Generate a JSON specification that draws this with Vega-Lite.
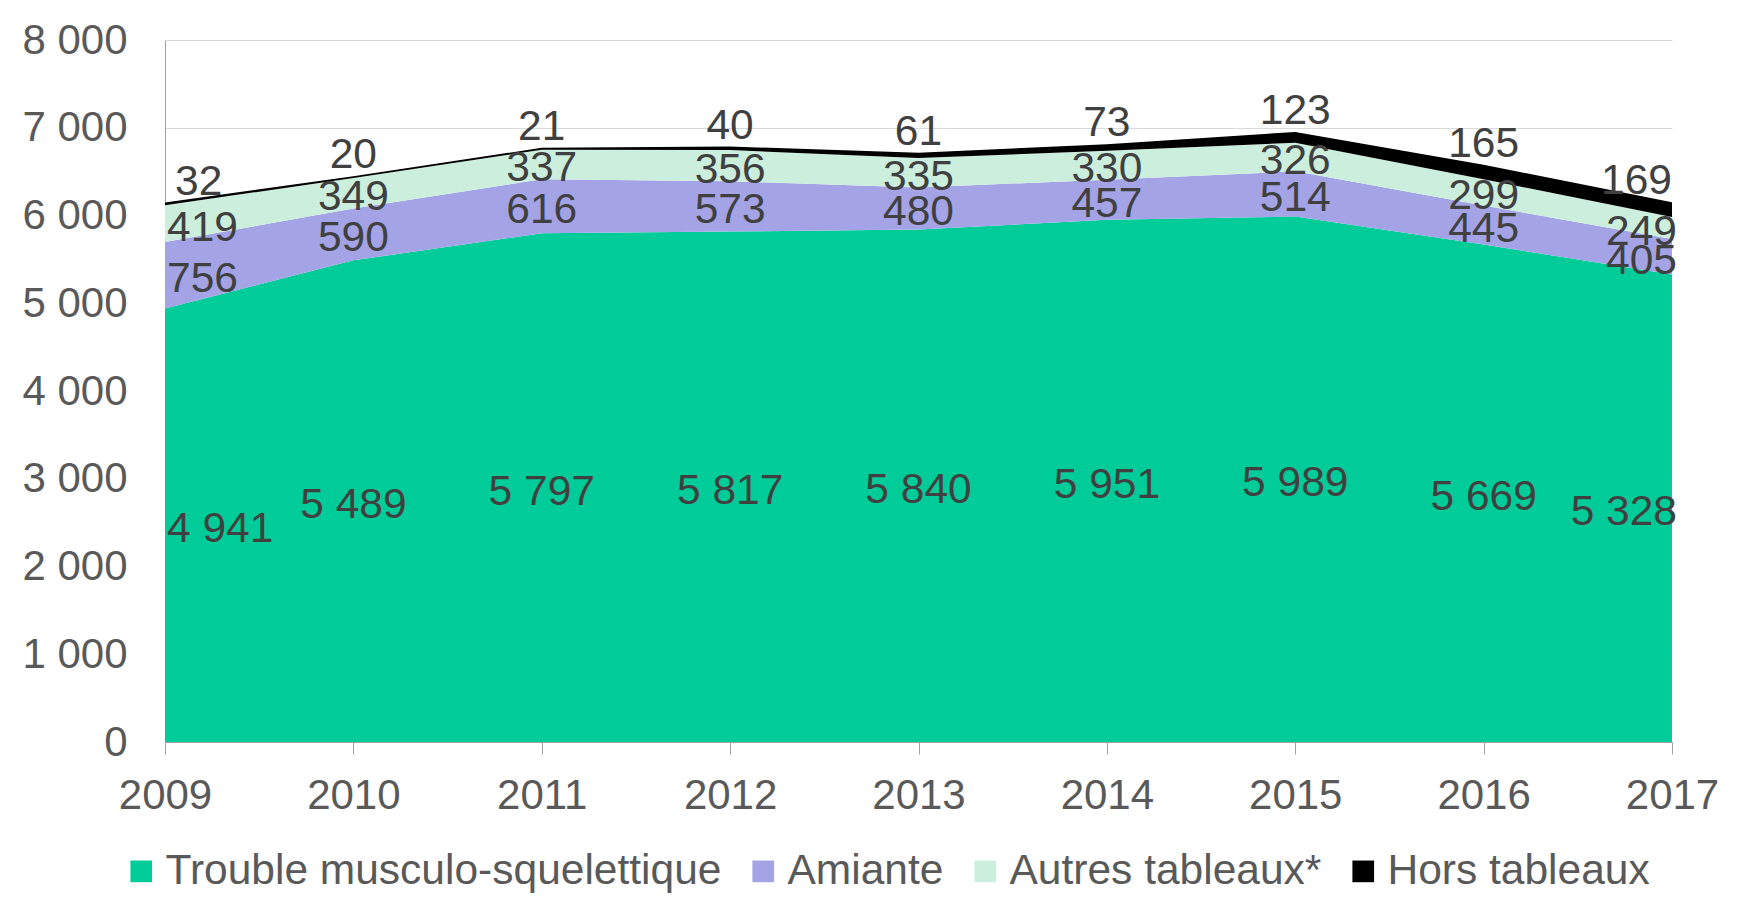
{
  "$schema": "https://vega.github.io/schema/vega-lite/v6.json",
  "width": 1507,
  "height": 702,
  "autosize": {"type": "none"},
  "padding": {"left": 165, "top": 40, "right": 69, "bottom": 170},
  "background": "white",
  "config": {
    "locale": {"number": {"decimal": ",", "thousands": " ", "grouping": [3], "currency": ["", " €"]}},
    "view": {"stroke": null},
    "font": "Liberation Sans",
    "text": {"font": "Liberation Sans"}
  },
  "data": {
    "values": [
      {"year": "2009", "cat": "Trouble musculo-squelettique", "ord": 1, "n": 4941},
      {"year": "2010", "cat": "Trouble musculo-squelettique", "ord": 1, "n": 5489},
      {"year": "2011", "cat": "Trouble musculo-squelettique", "ord": 1, "n": 5797},
      {"year": "2012", "cat": "Trouble musculo-squelettique", "ord": 1, "n": 5817},
      {"year": "2013", "cat": "Trouble musculo-squelettique", "ord": 1, "n": 5840},
      {"year": "2014", "cat": "Trouble musculo-squelettique", "ord": 1, "n": 5951},
      {"year": "2015", "cat": "Trouble musculo-squelettique", "ord": 1, "n": 5989},
      {"year": "2016", "cat": "Trouble musculo-squelettique", "ord": 1, "n": 5669},
      {"year": "2017", "cat": "Trouble musculo-squelettique", "ord": 1, "n": 5328},
      {"year": "2009", "cat": "Amiante", "ord": 2, "n": 756},
      {"year": "2010", "cat": "Amiante", "ord": 2, "n": 590},
      {"year": "2011", "cat": "Amiante", "ord": 2, "n": 616},
      {"year": "2012", "cat": "Amiante", "ord": 2, "n": 573},
      {"year": "2013", "cat": "Amiante", "ord": 2, "n": 480},
      {"year": "2014", "cat": "Amiante", "ord": 2, "n": 457},
      {"year": "2015", "cat": "Amiante", "ord": 2, "n": 514},
      {"year": "2016", "cat": "Amiante", "ord": 2, "n": 445},
      {"year": "2017", "cat": "Amiante", "ord": 2, "n": 405},
      {"year": "2009", "cat": "Autres tableaux*", "ord": 3, "n": 419},
      {"year": "2010", "cat": "Autres tableaux*", "ord": 3, "n": 349},
      {"year": "2011", "cat": "Autres tableaux*", "ord": 3, "n": 337},
      {"year": "2012", "cat": "Autres tableaux*", "ord": 3, "n": 356},
      {"year": "2013", "cat": "Autres tableaux*", "ord": 3, "n": 335},
      {"year": "2014", "cat": "Autres tableaux*", "ord": 3, "n": 330},
      {"year": "2015", "cat": "Autres tableaux*", "ord": 3, "n": 326},
      {"year": "2016", "cat": "Autres tableaux*", "ord": 3, "n": 299},
      {"year": "2017", "cat": "Autres tableaux*", "ord": 3, "n": 249},
      {"year": "2009", "cat": "Hors tableaux", "ord": 4, "n": 32},
      {"year": "2010", "cat": "Hors tableaux", "ord": 4, "n": 20},
      {"year": "2011", "cat": "Hors tableaux", "ord": 4, "n": 21},
      {"year": "2012", "cat": "Hors tableaux", "ord": 4, "n": 40},
      {"year": "2013", "cat": "Hors tableaux", "ord": 4, "n": 61},
      {"year": "2014", "cat": "Hors tableaux", "ord": 4, "n": 73},
      {"year": "2015", "cat": "Hors tableaux", "ord": 4, "n": 123},
      {"year": "2016", "cat": "Hors tableaux", "ord": 4, "n": 165},
      {"year": "2017", "cat": "Hors tableaux", "ord": 4, "n": 169}
    ]
  },
  "encoding": {
    "x": {
      "field": "year",
      "type": "ordinal",
      "scale": {"type": "point", "padding": 0},
      "axis": {
        "title": null,
        "labelAngle": 0,
        "labelFontSize": 42,
        "labelColor": "#595959",
        "labelFont": "Liberation Sans",
        "labelPadding": 21,
        "labelFlush": false,
        "labelOverlap": false,
        "labelBound": false,
        "ticks": true,
        "tickSize": 12,
        "tickColor": "#A0A0A0",
        "tickWidth": 1,
        "domainColor": "#A0A0A0",
        "domainWidth": 1,
        "grid": false
      }
    }
  },
  "layer": [
    {
      "mark": {"type": "area", "opacity": 1},
      "encoding": {
        "y": {
          "field": "n",
          "type": "quantitative",
          "stack": "zero",
          "scale": {"domain": [0, 8000]},
          "axis": {
            "title": null,
            "values": [0, 1000, 2000, 3000, 4000, 5000, 6000, 7000, 8000],
            "format": ",d",
            "labelFontSize": 42,
            "labelColor": "#595959",
            "labelFont": "Liberation Sans",
            "labelPadding": 38,
            "ticks": false,
            "grid": true,
            "gridColor": "#D9D9D9",
            "gridWidth": 1,
            "domain": true,
            "domainColor": "#A0A0A0",
            "domainWidth": 1
          }
        },
        "color": {
          "field": "cat",
          "type": "nominal",
          "scale": {
            "domain": ["Trouble musculo-squelettique", "Amiante", "Autres tableaux*", "Hors tableaux"],
            "range": ["#00CC99", "#A3A3E6", "#CCEEDD", "#000000"]
          },
          "legend": {
            "orient": "none",
            "legendX": -45,
            "legendY": 810,
            "direction": "horizontal",
            "title": null,
            "symbolType": "square",
            "symbolSize": 470,
            "symbolStrokeWidth": 0,
            "symbolOpacity": 1,
            "labelFontSize": 42.5,
            "labelFont": "Liberation Sans",
            "labelColor": "#595959",
            "labelLimit": 0,
            "labelOffset": 3,
            "columnPadding": 20
          }
        },
        "order": {"field": "ord", "type": "quantitative", "sort": "ascending"}
      }
    },
    {
      "transform": [
        {"stack": "n", "groupby": ["year"], "sort": [{"field": "ord", "order": "ascending"}], "as": ["y0", "y1"]},
        {"fold": ["y0", "y1"], "as": ["edge", "pos"]},
        {
          "aggregate": [
            {"op": "mean", "field": "pos", "as": "mid"},
            {"op": "max", "field": "pos", "as": "top"},
            {"op": "max", "field": "n", "as": "val"}
          ],
          "groupby": ["year", "cat"]
        }
      ],
      "encoding": {
        "text": {"field": "val", "type": "quantitative", "format": ",d"}
      },
      "layer": [
        {
          "transform": [{"filter": "datum.year === '2009' && datum.cat !== 'Hors tableaux'"}],
          "mark": {"type": "text", "align": "left", "dx": 2, "dy": 4, "fontSize": 42.5, "color": "#404040", "baseline": "middle"},
          "encoding": {"y": {"field": "mid", "type": "quantitative", "scale": {"domain": [0, 8000]}, "title": null}}
        },
        {
          "transform": [{"filter": "datum.year === '2017' && datum.cat !== 'Hors tableaux'"}],
          "mark": {"type": "text", "align": "right", "dx": 5, "dy": 4, "fontSize": 42.5, "color": "#404040", "baseline": "middle"},
          "encoding": {"y": {"field": "mid", "type": "quantitative", "scale": {"domain": [0, 8000]}, "title": null}}
        },
        {
          "transform": [{"filter": "datum.year !== '2009' && datum.year !== '2017' && datum.cat !== 'Hors tableaux'"}],
          "mark": {"type": "text", "align": "center", "dy": 4, "fontSize": 42.5, "color": "#404040", "baseline": "middle"},
          "encoding": {"y": {"field": "mid", "type": "quantitative", "scale": {"domain": [0, 8000]}, "title": null}}
        },
        {
          "transform": [{"filter": "datum.year === '2009' && datum.cat === 'Hors tableaux'"}],
          "mark": {"type": "text", "align": "left", "dx": 10, "dy": -21, "fontSize": 42.5, "color": "#404040", "baseline": "middle"},
          "encoding": {"y": {"field": "top", "type": "quantitative", "scale": {"domain": [0, 8000]}, "title": null}}
        },
        {
          "transform": [{"filter": "datum.year === '2017' && datum.cat === 'Hors tableaux'"}],
          "mark": {"type": "text", "align": "right", "dx": 0, "dy": -21, "fontSize": 42.5, "color": "#404040", "baseline": "middle"},
          "encoding": {"y": {"field": "top", "type": "quantitative", "scale": {"domain": [0, 8000]}, "title": null}}
        },
        {
          "transform": [{"filter": "datum.year !== '2009' && datum.year !== '2017' && datum.cat === 'Hors tableaux'"}],
          "mark": {"type": "text", "align": "center", "dy": -21, "fontSize": 42.5, "color": "#404040", "baseline": "middle"},
          "encoding": {"y": {"field": "top", "type": "quantitative", "scale": {"domain": [0, 8000]}, "title": null}}
        }
      ]
    }
  ]
}
